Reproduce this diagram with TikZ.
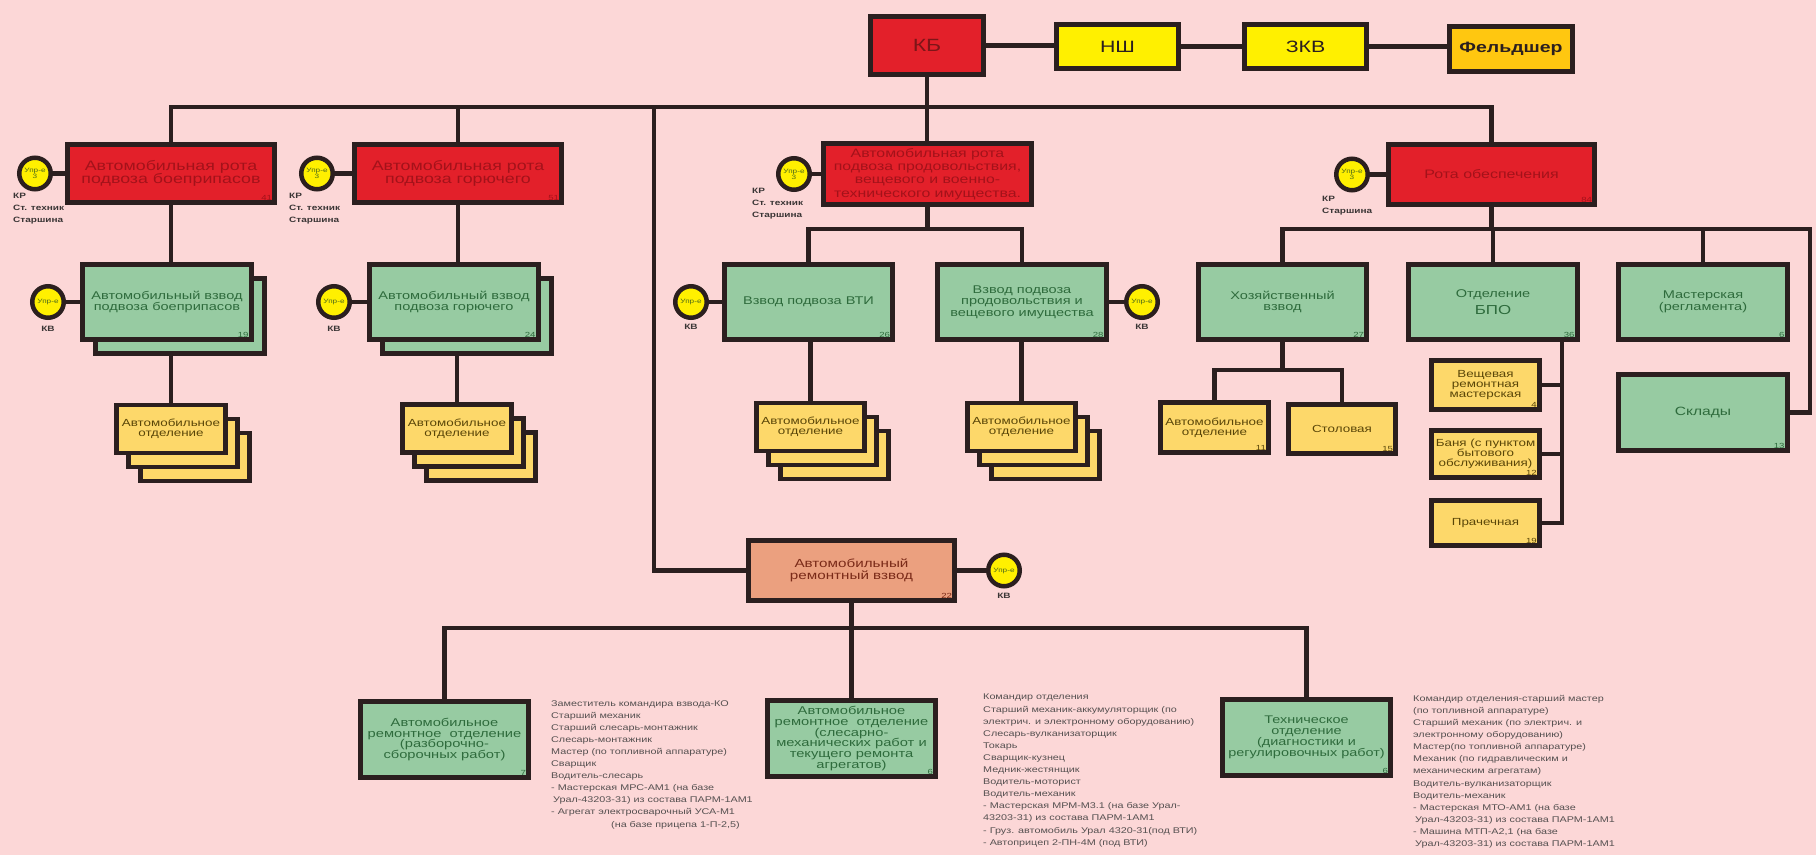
\documentclass[tikz,border=0pt]{standalone}
\usepackage{fontspec}
\setmainfont[FakeStretch=1.3]{Liberation Sans}
\definecolor{bgC}{HTML}{FCD7D7}
\definecolor{lineC}{HTML}{2B1F1F}
\definecolor{redF}{HTML}{E3202A}
\definecolor{redT}{HTML}{A3121A}
\definecolor{kbT}{HTML}{7E1518}
\definecolor{yelF}{HTML}{FFF000}
\definecolor{goldF}{HTML}{FFC710}
\definecolor{grnF}{HTML}{97CBA2}
\definecolor{grnT}{HTML}{2E6B3C}
\definecolor{ltyF}{HTML}{FDD86A}
\definecolor{ltyT}{HTML}{5A4608}
\definecolor{salF}{HTML}{EBA07F}
\definecolor{salT}{HTML}{7A2A18}
\definecolor{txtC}{HTML}{555050}
\definecolor{lblC}{HTML}{3A3535}
\definecolor{cirT}{HTML}{4D6A1A}
\newcommand{\myfs}[2]{\fontsize{#1}{#2}\selectfont}
\newcommand{\numat}[3]{\node[num,text=#3,anchor=south east] (#1n) at ([shift={(-5pt,4.5pt)}]#1.south east) {#2};}
\begin{document}
\begin{tikzpicture}[x=1pt,y=-1pt,
 box/.style={draw=lineC, line width=4.8pt, inner sep=1pt, align=center},
 redbox/.style={box, fill=redF, text=redT, font=\myfs{13.7}{13.5}},
 topy/.style={box, fill=yelF, text=lineC, font=\myfs{16.4}{16}, minimum width=122.5pt, minimum height=43.5pt},
 grn/.style={box, fill=grnF, text=grnT, font=\myfs{11.2}{11.5}, minimum width=168.5pt, minimum height=75.5pt},
 lty/.style={box, fill=ltyF, text=ltyT, font=\myfs{10.3}{10.3}, minimum width=108.5pt, minimum height=48pt},
 sal/.style={box, fill=salF, text=salT, font=\myfs{11.7}{11.7}},
 cir/.style={circle, draw=lineC, line width=4.5pt, fill=yelF, minimum size=31.5pt, inner sep=0pt, align=center, text=cirT, font=\myfs{6.3}{6}},
 lbl/.style={font=\bfseries\myfs{7.7}{11.8}, text=lblC, align=left, inner sep=0pt},
 num/.style={font=\myfs{7.4}{7.4}, inner sep=0pt},
 conn/.style={draw=lineC, line width=4.8pt},
 note/.style={font=\myfs{8.3}{12.1}, text=txtC, align=left, inner sep=0pt, anchor=north west},
]
\fill[bgC] (0,0) rectangle (1816,855);
\useasboundingbox (0,0) rectangle (1816,855);

% ---------- top row
\node[box, fill=redF, text=kbT, font=\myfs{17.7}{17.7}, minimum width=113.5pt, minimum height=58.5pt] (kb) at (927,45.5) {КБ};
\node[topy] (nsh) at (1117.5,46.5) {НШ};
\node[topy] (zkv) at (1305.5,46.5) {ЗКВ};
\node[topy, fill=goldF, font=\bfseries\myfs{15}{15}, minimum width=123.5pt, minimum height=44.5pt] (fel) at (1511,49) {Фельдшер};

% ---------- companies
\node[redbox, minimum width=207.5pt, minimum height=58.5pt] (r1) at (171,173.5) {Автомобильная рота\\подвоза боеприпасов};
\node[redbox, minimum width=207.5pt, minimum height=58.5pt] (r2) at (458,173.5) {Автомобильная рота\\подвоза горючего};
\node[redbox, font=\myfs{12.2}{13.2}, minimum width=208.5pt, minimum height=61.5pt] (r3) at (927.5,174) {Автомобильная рота\\подвоза продовольствия,\\вещевого и военно-\\технического имущества.};
\node[redbox, font=\myfs{12.3}{12.3}, minimum width=206.5pt, minimum height=60.5pt] (r4) at (1491.5,174.5) {Рота обеспечения};
\numat{r1}{41}{redT}
\numat{r2}{51}{redT}
\numat{r4}{84}{redT}

\node[cir] (c1) at (35,173.5) {Упр-е\\3};
\node[cir] (c2) at (317,173.5) {Упр-е\\3};
\node[cir] (c3) at (794,174) {Упр-е\\3};
\node[cir] (c4) at (1352,174.5) {Упр-е\\3};
\node[lbl, anchor=north west] (c1l) at (13,193) {КР\\Ст. техник\\Старшина};
\node[lbl, anchor=north west] (c2l) at (289,193) {КР\\Ст. техник\\Старшина};
\node[lbl, anchor=north west] (c3l) at (752,188) {КР\\Ст. техник\\Старшина};
\node[lbl, anchor=north west] (c4l) at (1322,196) {КР\\Старшина};

% ---------- platoons
\node[grn] (g1b) at (180,316) {};
\node[grn] (g1) at (167,302) {Автомобильный взвод\\подвоза боеприпасов};
\node[grn] (g2b) at (467,316) {};
\node[grn] (g2) at (454,302) {Автомобильный взвод\\подвоза горючего};
\node[grn] (g3) at (808.5,302) {Взвод подвоза ВТИ};
\node[grn] (g4) at (1022,302) {Взвод подвоза\\продовольствия и\\вещевого имущества};
\node[grn] (g5) at (1282.5,302) {Хозяйственный\\взвод};
\node[grn] (g6) at (1493,302) {Отделение\\[5pt]{\myfs{13}{13}БПО}};
\node[grn] (g7) at (1703,302) {Мастерская\\(регламента)};
\node[grn, font=\myfs{12}{12}, minimum height=76.5pt] (sk) at (1703,412.5) {Склады};
\numat{g1}{19}{grnT}
\numat{g2}{24}{grnT}
\numat{g3}{26}{grnT}
\numat{g4}{28}{grnT}
\numat{g5}{27}{grnT}
\numat{g6}{36}{grnT}
\numat{g7}{6}{grnT}
\numat{sk}{13}{grnT}

\node[cir] (g1c) at (48,302) {Упр-е};
\node[cir] (g2c) at (334,302) {Упр-е};
\node[cir] (g3c) at (691,302) {Упр-е};
\node[cir] (g4c) at (1142,302) {Упр-е};
\node[lbl, anchor=north] (g1k) at (48,326) {КВ};
\node[lbl, anchor=north] (g2k) at (334,326) {КВ};
\node[lbl, anchor=north] (g3k) at (691,324) {КВ};
\node[lbl, anchor=north] (g4k) at (1142,324) {КВ};

% ---------- squads (stacked)
\node[lty] (y1c) at (195,457) {};
\node[lty] (y1b) at (183,443) {};
\node[lty] (y1) at (171,429) {Автомобильное\\отделение};
\node[lty] (y2c) at (481,456.5) {};
\node[lty] (y2b) at (469,442.5) {};
\node[lty] (y2) at (457,428.5) {Автомобильное\\отделение};
\node[lty] (y3c) at (834.5,455) {};
\node[lty] (y3b) at (822.5,441) {};
\node[lty] (y3) at (810.5,427) {Автомобильное\\отделение};
\node[lty] (y4c) at (1045.5,455) {};
\node[lty] (y4b) at (1033.5,441) {};
\node[lty] (y4) at (1021.5,427) {Автомобильное\\отделение};

\node[lty, minimum height=50.5pt] (y5) at (1214.5,427.5) {Автомобильное\\отделение};
\node[lty, minimum width=107.5pt, minimum height=49.5pt] (y6) at (1342,429) {Столовая};
\node[lty, font=\myfs{10.3}{9.8}, minimum width=108pt, minimum height=49.5pt] (y7) at (1485.5,385) {Вещевая\\ремонтная\\мастерская};
\node[lty, font=\myfs{10.3}{9.8}, minimum width=108pt, minimum height=47.5pt] (y8) at (1485.5,454) {Баня (с пунктом\\бытового\\обслуживания)};
\node[lty, minimum width=108pt, minimum height=45.5pt] (y9) at (1485.5,523) {Прачечная};
\numat{y5}{11}{ltyT}
\numat{y6}{15}{ltyT}
\numat{y7}{4}{ltyT}
\numat{y8}{12}{ltyT}
\numat{y9}{19}{ltyT}

% ---------- repair platoon
\node[sal, minimum width=206.5pt, minimum height=60.5pt] (arv) at (851.5,570.5) {Автомобильный\\ремонтный взвод};
\numat{arv}{22}{salT}
\node[cir] (ac) at (1004,570.5) {Упр-е};
\node[lbl, anchor=north] (ack) at (1004,593) {КВ};

\node[grn, font=\myfs{11.3}{10.9}, minimum height=76.5pt] (b1) at (444.5,739.5) {Автомобильное\\ремонтное\ \ отделение\\(разборочно-\\сборочных работ)};
\node[grn, font=\myfs{11.3}{10.9}, minimum height=76.5pt] (b2) at (851.5,738.5) {Автомобильное\\ремонтное\ \ отделение\\(слесарно-\\механических работ и\\текущего ремонта\\агрегатов)};
\node[grn, font=\myfs{11.1}{10.9}, minimum height=76.5pt] (b3) at (1306.5,737.5) {Техническое\\отделение\\(диагностики и\\регулировочных работ)};
\numat{b1}{7}{grnT}
\numat{b2}{6}{grnT}
\numat{b3}{6}{grnT}

% ---------- notes
\node[note] (t1) at (551,700) {Заместитель командира взвода-КО\\Старший механик\\Старший слесарь-монтажник\\Слесарь-монтажник\\Мастер (по топливной аппаратуре)\\Сварщик\\Водитель-слесарь\\- Мастерская МРС-АМ1 (на базе\\\hspace*{2pt}Урал-43203-31) из состава ПАРМ-1АМ1\\- Агрегат электросварочный УСА-М1\\\hspace*{60pt}(на базе прицепа 1-П-2,5)};
\node[note] (t2) at (983,694) {Командир отделения\\Старший механик-аккумуляторщик (по\\электрич. и электронному оборудованию)\\Слесарь-вулканизаторщик\\Токарь\\Сварщик-кузнец\\Медник-жестянщик\\Водитель-моторист\\Водитель-механик\\- Мастерская МРМ-М3.1 (на базе Урал-\\43203-31) из состава ПАРМ-1АМ1\\- Груз. автомобиль Урал 4320-31(под ВТИ)\\- Автоприцеп 2-ПН-4М (под ВТИ)};
\node[note] (t3) at (1413,695) {Командир отделения-старший мастер\\(по топливной аппаратуре)\\Старший механик (по электрич. и\\электронному оборудованию)\\Мастер(по топливной аппаратуре)\\Механик (по гидравлическим и\\механическим агрегатам)\\Водитель-вулканизаторщик\\Водитель-механик\\- Мастерская МТО-АМ1 (на базе\\\hspace*{2pt}Урал-43203-31) из состава ПАРМ-1АМ1\\- Машина МТП-А2,1 (на базе\\\hspace*{2pt}Урал-43203-31) из состава ПАРМ-1АМ1};

% ---------- connectors
\coordinate (bus) at (927,107);
\coordinate (lb) at (654,107);
\coordinate (br3) at (927,229);
\coordinate (br4) at (1491.5,229);
\coordinate (rr) at (1810,229);
\coordinate (br5) at (1282.5,370);
\coordinate (bpo) at (1562,342);
\coordinate (bus2) at (851.5,628);

\draw[conn] (kb.east) -- (kb.east -| nsh.west);
\draw[conn] (nsh.east) -- (nsh.east -| zkv.west);
\draw[conn] (zkv.east) -- (zkv.east -| fel.west);

\draw[conn] (kb.south) -- (kb.south |- r3.north);
\draw[conn] (r1.north) -- (r1.north |- bus) -- (r4.north |- bus) -- (r4.north);
\draw[conn] (r2.north) -- (r2.north |- bus);
\draw[conn] (lb) -- (lb |- arv.west) -- (arv.west);

\draw[conn] (c1.east) -- (c1.east -| r1.west);
\draw[conn] (c2.east) -- (c2.east -| r2.west);
\draw[conn] (c3.east) -- (c3.east -| r3.west);
\draw[conn] (c4.east) -- (c4.east -| r4.west);

\draw[conn] (r1.south) -- (r1.south |- g1.north);
\draw[conn] (r2.south) -- (r2.south |- g2.north);
\draw[conn] (r3.south) -- (r3.south |- br3);
\draw[conn] (g3.north) -- (g3.north |- br3) -- (g4.north |- br3) -- (g4.north);
\draw[conn] (r4.south) -- (r4.south |- br4);
\draw[conn] (g5.north) -- (g5.north |- br4) -- (rr) -- (rr |- sk.east) -- (sk.east);
\draw[conn] (g6.north) -- (g6.north |- br4);
\draw[conn] (g7.north) -- (g7.north |- br4);

\draw[conn] (g1c.east) -- (g1c.east -| g1.west);
\draw[conn] (g2c.east) -- (g2c.east -| g2.west);
\draw[conn] (g3c.east) -- (g3c.east -| g3.west);
\draw[conn] (g4.east) -- (g4.east -| g4c.west);

\draw[conn] (y1.north) -- (y1.north |- g1b.south);
\draw[conn] (y2.north) -- (y2.north |- g2b.south);
\draw[conn] (y3.north) -- (y3.north |- g3.south);
\draw[conn] (y4.north) -- (y4.north |- g4.south);

\draw[conn] (g5.south) -- (g5.south |- br5);
\draw[conn] (y5.north) -- (y5.north |- br5) -- (y6.north |- br5) -- (y6.north);
\draw[conn] (g6.south -| bpo) -- (bpo |- y9.east) -- (y9.east);
\draw[conn] (y7.east) -- (y7.east -| bpo);
\draw[conn] (y8.east) -- (y8.east -| bpo);

\draw[conn] (arv.east) -- (arv.east -| ac.west);
\draw[conn] (arv.south) -- (arv.south |- bus2);
\draw[conn] (b1.north) -- (b1.north |- bus2) -- (b3.north |- bus2) -- (b3.north);
\draw[conn] (b2.north) -- (b2.north |- bus2);
\end{tikzpicture}
\end{document}
